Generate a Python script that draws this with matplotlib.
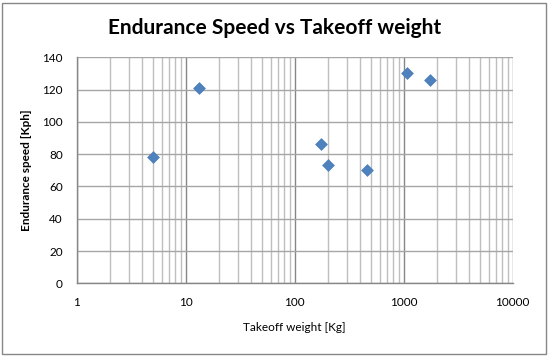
import numpy as np
import matplotlib.pyplot as plt
from matplotlib.ticker import LogLocator, FixedLocator, NullFormatter

# Data
takeoff_weight = [5, 13.2, 174, 202, 460, 1066, 1742]  # Kg
endurance_speed = [78.2, 121.2, 86.1, 73.1, 70.4, 130.2, 125.9]  # Kph

x_ticks = [1, 10, 100, 1000, 10000]
x_tick_labels = ["1", "10", "100", "1000", "10000"]
y_ticks = [0, 20, 40, 60, 80, 100, 120, 140]

plt.rcParams["font.family"] = ["Lato", "DejaVu Sans"]

fig = plt.figure(figsize=(5.49, 3.57), dpi=100)
ax = fig.add_axes([76.7 / 549, 1 - 283.3 / 357, 436 / 549, 226 / 357])

ax.scatter(takeoff_weight, endurance_speed, marker="D", s=36, color="#4F81BD",
           edgecolors="#4A7EBB", linewidths=0.5, zorder=3)

ax.set_xscale("log")
ax.set_xlim(1, 10000)
ax.set_ylim(0, 140)

ax.xaxis.set_major_locator(FixedLocator(x_ticks))
ax.set_xticklabels(x_tick_labels)
ax.xaxis.set_minor_locator(LogLocator(base=10, subs=np.arange(2, 10)))
ax.xaxis.set_minor_formatter(NullFormatter())
ax.set_yticks(y_ticks)

ax.grid(True, which="major", axis="x", color="#868686", linewidth=1)
ax.grid(True, which="minor", axis="x", color="#BEBEBE", linewidth=1)
ax.grid(True, which="major", axis="y", color="#A6A6A6", linewidth=1)
ax.set_axisbelow(True)

for side in ["top", "right"]:
    ax.spines[side].set_visible(False)
for side in ["left", "bottom"]:
    ax.spines[side].set_color("#868686")
    ax.spines[side].set_linewidth(1)

ax.tick_params(which="both", length=0, labelsize=8.5, colors="black")
ax.tick_params(axis="x", pad=10)
ax.tick_params(axis="y", pad=10)

ax.set_xlabel("Takeoff weight [Kg]", fontsize=8.5, labelpad=10)
ax.set_ylabel("Endurance speed [Kph]", fontsize=8.5, fontweight="bold", labelpad=7)

fig.text(0.5, 1 - 28 / 357, "Endurance Speed vs Takeoff weight", ha="center",
         va="center", fontsize=15, fontweight="bold")

# outer chart border
fig.patches.append(plt.Rectangle((2 / 549, 3 / 357), 544 / 549, 351 / 357,
                                 transform=fig.transFigure, fill=False,
                                 edgecolor="#868686", linewidth=1))

fig.savefig("out.png", dpi=100)
